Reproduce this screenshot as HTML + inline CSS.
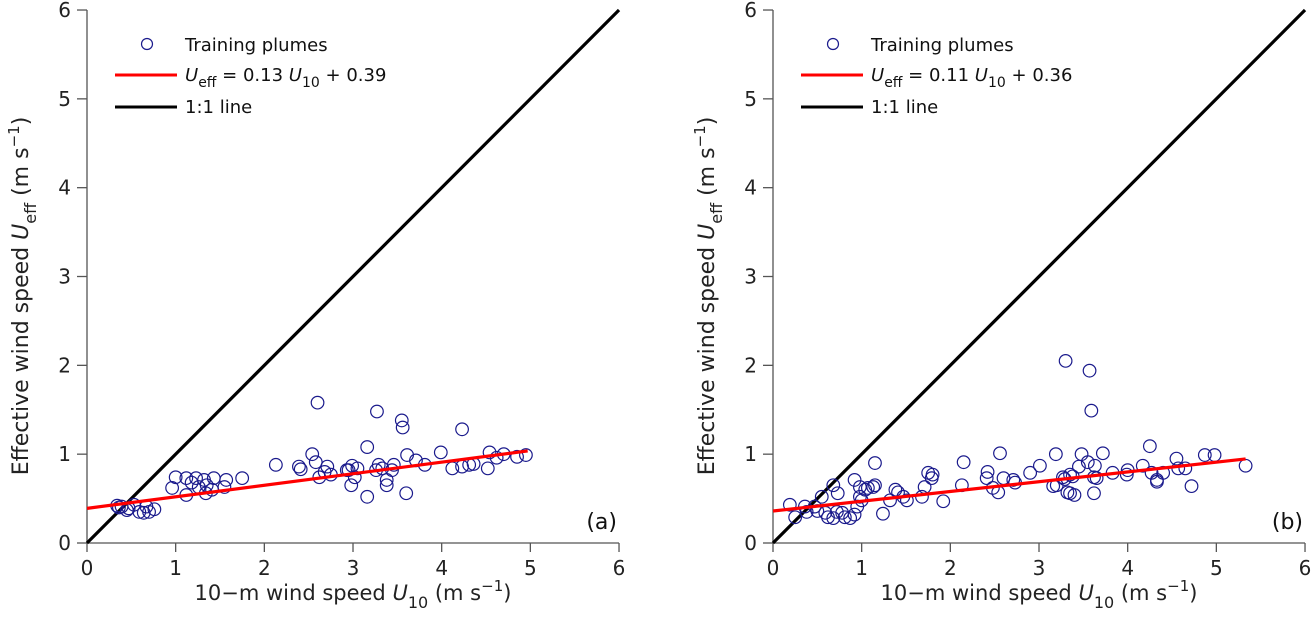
<!DOCTYPE html>
<html><head><meta charset="utf-8"><style>
html,body{margin:0;padding:0;background:#fff;}
svg{display:block;font-family:"DejaVu Sans","Liberation Sans",sans-serif;}
</style></head><body>
<svg id="chart" width="1314" height="637" viewBox="0 0 1314 637" xmlns="http://www.w3.org/2000/svg"></svg>
<script>
const xTicks=[0,1,2,3,4,5,6];
const yTicks=[0,1,2,3,4,5,6];
const aX=[0.34,0.39,0.47,0.59,0.67,0.70,0.76,0.45,0.36,0.53,0.64,1.0,0.96,1.12,1.12,1.18,1.26,1.32,1.35,1.43,1.34,1.57,1.55,1.75,1.23,1.41,2.13,2.39,2.41,2.54,2.58,2.6,2.62,2.71,2.75,2.68,2.95,2.99,2.98,3.02,3.27,3.55,3.56,4.23,3.16,2.93,3.05,3.16,3.26,3.29,3.33,3.38,3.38,3.46,3.44,3.6,3.61,3.71,3.81,3.99,4.12,4.23,4.31,4.36,4.52,4.54,4.62,4.70,4.85,4.95];
const aY=[0.42,0.41,0.39,0.35,0.41,0.35,0.38,0.37,0.40,0.43,0.34,0.74,0.62,0.73,0.54,0.68,0.63,0.71,0.65,0.73,0.56,0.71,0.63,0.73,0.73,0.60,0.88,0.86,0.83,1.0,0.91,1.58,0.74,0.86,0.77,0.80,0.82,0.87,0.65,0.74,1.48,1.38,1.30,1.28,1.08,0.82,0.84,0.52,0.82,0.88,0.84,0.71,0.65,0.88,0.82,0.56,0.99,0.93,0.88,1.02,0.84,0.86,0.88,0.89,0.84,1.02,0.96,1.0,0.97,0.99];
const bX=[0.19,0.25,0.36,0.38,0.47,0.50,0.55,0.68,0.73,0.59,0.62,0.68,0.72,0.78,0.81,0.87,0.92,0.95,0.92,0.98,1.04,1.07,1.13,1.15,0.98,1.0,1.15,1.24,1.32,1.38,1.41,1.47,1.51,1.68,1.71,1.75,1.79,1.80,1.92,2.13,2.15,2.42,2.41,2.56,2.60,2.48,2.54,2.71,2.73,2.90,3.01,3.19,3.16,3.20,3.27,3.29,3.35,3.38,3.32,3.35,3.40,3.45,3.48,3.55,3.63,3.62,3.65,3.62,3.3,3.57,3.59,3.72,3.83,3.99,4.0,4.17,4.25,4.27,4.33,4.33,4.40,4.55,4.57,4.65,4.72,4.87,4.98,5.33];
const bY=[0.43,0.29,0.41,0.35,0.41,0.36,0.52,0.65,0.56,0.34,0.29,0.28,0.35,0.34,0.29,0.28,0.32,0.41,0.71,0.63,0.60,0.62,0.63,0.65,0.52,0.48,0.90,0.33,0.48,0.60,0.57,0.52,0.48,0.52,0.63,0.79,0.73,0.77,0.47,0.65,0.91,0.80,0.73,1.01,0.73,0.62,0.57,0.71,0.68,0.79,0.87,1.0,0.64,0.65,0.74,0.72,0.77,0.75,0.57,0.56,0.54,0.86,1.0,0.91,0.87,0.74,0.73,0.56,2.05,1.94,1.49,1.01,0.79,0.77,0.82,0.87,1.09,0.79,0.71,0.69,0.79,0.95,0.84,0.84,0.64,0.99,0.99,0.87];
const aSlope=0.13, aInt=0.39, aMax=4.97;
const bSlope=0.11, bInt=0.36, bMax=5.33;
const aLegend="0.13", aLegendB="0.39";
const bLegend="0.11", bLegendB="0.36";

const NS="http://www.w3.org/2000/svg";
const svg=document.getElementById('chart');
function mk(tag,attrs,parent){const e=document.createElementNS(NS,tag);for(const k in attrs)e.setAttribute(k,attrs[k]);(parent||svg).appendChild(e);return e;}

function panel(x0,xs,ys,slope,intc,xmax,s1,s2,lab,key){
  const X=v=>x0+v*88.67, Y=v=>543-v*88.83;
  const g=mk('g',{});
  
  
  const ax=mk('line',{x1:x0,y1:543,x2:x0+532,y2:543,stroke:'#555','stroke-width':1.3},g);
  
  
  const ay=mk('line',{x1:x0,y1:10,x2:x0,y2:543,stroke:'#555','stroke-width':1.3},g);
  
  
  xTicks.forEach(t=>{
    mk('line',{x1:X(t),y1:543,x2:X(t),y2:552,stroke:'#555','stroke-width':1.3},g);
    const tx=mk('text',{x:X(t),y:575,'text-anchor':'middle','font-size':20,fill:'#222'},g);
    tx.textContent=t;
    
    
  });
  yTicks.forEach(t=>{
    mk('line',{x1:x0-10,y1:Y(t),x2:x0,y2:Y(t),stroke:'#555','stroke-width':1.3},g);
    const tx=mk('text',{x:x0-16,y:Y(t)+7,'text-anchor':'end','font-size':20,fill:'#222'},g);
    tx.textContent=t;
    
    
  });
  const one=mk('line',{x1:X(0),y1:Y(0),x2:X(6),y2:Y(6),stroke:'#000','stroke-width':3.2},g);
  
  
  xs.forEach((v,i)=>{
    const c=mk('circle',{cx:X(v),cy:Y(ys[i]),r:6.3,fill:'none',stroke:'#1a1a8c','stroke-width':1.2},g);
    
    
  });
  const fit=mk('line',{x1:X(0),y1:Y(intc),x2:X(xmax),y2:Y(intc+slope*xmax),stroke:'#ff0000','stroke-width':3.2},g);
  
  
  const lg=mk('g',{},g);
  
  
  mk('circle',{cx:x0+60,cy:44,r:5.5,fill:'none',stroke:'#1a1a8c','stroke-width':1.2},lg);
  mk('line',{x1:x0+28,y1:75,x2:x0+90,y2:75,stroke:'#ff0000','stroke-width':3},lg);
  mk('line',{x1:x0+28,y1:107,x2:x0+90,y2:107,stroke:'#000','stroke-width':3},lg);
  const t1=mk('text',{x:x0+98,y:51,'font-size':18,fill:'#111'},lg);t1.textContent='Training plumes';
  const t2=mk('text',{x:x0+98,y:81,'font-size':18,fill:'#111'},lg);
  t2.innerHTML='<tspan font-style="italic">U</tspan><tspan dy="6" font-size="14">eff</tspan><tspan dy="-6"> = '+s1+' </tspan><tspan font-style="italic">U</tspan><tspan dy="6" font-size="14">10</tspan><tspan dy="-6"> + '+s2+'</tspan>';
  const t3=mk('text',{x:x0+98,y:113,'font-size':18,fill:'#111'},lg);t3.textContent='1:1 line';
  const pl=mk('text',{x:x0+530,y:529,'text-anchor':'end','font-size':22,fill:'#111'},g);
  pl.textContent=lab;
  
  
  const xt=mk('text',{x:x0+266,y:600,'text-anchor':'middle','font-size':21,fill:'#222'},g);
  xt.innerHTML='10\u2212m wind speed <tspan font-style="italic">U</tspan><tspan dy="8" font-size="16">10</tspan><tspan dy="-8"> (m s</tspan><tspan dy="-9" font-size="15">\u22121</tspan><tspan dy="9">)</tspan>';
  
  
  const yt=mk('text',{x:0,y:0,'text-anchor':'middle','font-size':22,fill:'#222',transform:'translate('+(x0-59)+',296) rotate(-90)'},g);
  yt.innerHTML='Effective wind speed <tspan font-style="italic">U</tspan><tspan dy="8" font-size="16">eff</tspan><tspan dy="-8">  (m s</tspan><tspan dy="-9" font-size="15">\u22121</tspan><tspan dy="9">)</tspan>';
  
  
}
panel(87,aX,aY,aSlope,aInt,aMax,aLegend,aLegendB,'(a)','a');
panel(773,bX,bY,bSlope,bInt,bMax,bLegend,bLegendB,'(b)','b');
</script>
</body></html>
